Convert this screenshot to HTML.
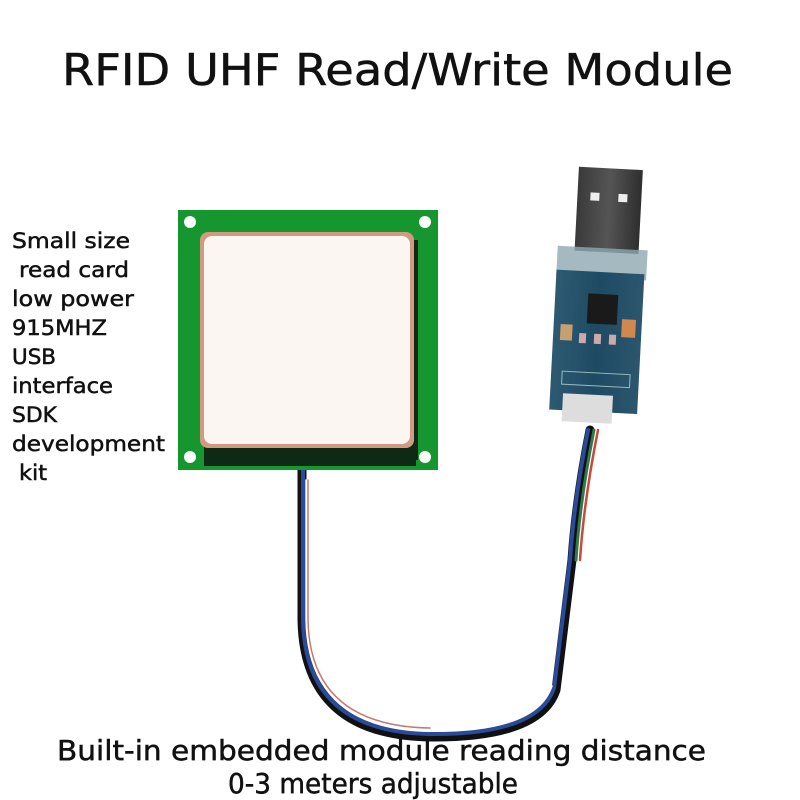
<!DOCTYPE html>
<html><head><meta charset="utf-8"><style>
html,body{margin:0;padding:0;background:#fff;}
svg{display:block;}
text{font-family:"DejaVu Sans","Liberation Sans",sans-serif;fill:#111;stroke:#111;stroke-width:0.5;}
</style></head><body>
<svg width="800" height="800" viewBox="0 0 800 800" xmlns="http://www.w3.org/2000/svg">
<defs>
<linearGradient id="usb" x1="0" x2="1"><stop offset="0" stop-color="#3a3a3a"/><stop offset="0.5" stop-color="#555"/><stop offset="1" stop-color="#2e2e2e"/></linearGradient>
<linearGradient id="board" x1="0" x2="1"><stop offset="0" stop-color="#2d5a72"/><stop offset="0.5" stop-color="#1f4a63"/><stop offset="1" stop-color="#2b566e"/></linearGradient>
</defs>
<rect width="800" height="800" fill="#fff"/>
<text x="62" y="85" font-size="44" stroke-width="1.2" textLength="671" lengthAdjust="spacingAndGlyphs">RFID UHF Read/Write Module</text>

<g font-size="21">
<text x="12" y="248" textLength="118" lengthAdjust="spacingAndGlyphs">Small size</text>
<text x="19" y="277" textLength="110" lengthAdjust="spacingAndGlyphs">read card</text>
<text x="12" y="306" textLength="122" lengthAdjust="spacingAndGlyphs">low power</text>
<text x="12" y="335" textLength="95" lengthAdjust="spacingAndGlyphs">915MHZ</text>
<text x="12" y="364" textLength="44" lengthAdjust="spacingAndGlyphs">USB</text>
<text x="12" y="393" textLength="101" lengthAdjust="spacingAndGlyphs">interface</text>
<text x="12" y="422" textLength="45" lengthAdjust="spacingAndGlyphs">SDK</text>
<text x="12" y="451" textLength="153" lengthAdjust="spacingAndGlyphs">development</text>
<text x="19" y="480" textLength="28" lengthAdjust="spacingAndGlyphs">kit</text>
</g>

<!-- cable -->
<g fill="none" stroke-linecap="round">
<path d="M302 470 L302 620 Q304 735 430 737 Q540 738 556 690 L572 560 Q576 500 590 430" stroke="#111" stroke-width="9"/>
<path d="M303 470 L303 620 Q305 732 430 734 Q538 735 554 688 L570 560 Q574 500 588 430" stroke="#2a4a9a" stroke-width="4"/>
<path d="M306 480 L306 620 Q308 729 430 731 Q535 732 552 686" stroke="#fff" stroke-width="1.5"/>
<path d="M576 560 Q580 500 594 430" stroke="#2f7a4a" stroke-width="3"/>
<path d="M580 560 Q584 500 598 430" stroke="#c84a3a" stroke-width="2.5"/>
<path d="M308 480 L308 620 Q310 726 430 728" stroke="#c87a6a" stroke-width="1.5"/>
</g>

<!-- PCB -->
<rect x="178" y="210" width="260" height="260" fill="#16962e"/>
<rect x="204" y="440" width="212" height="26" fill="#0f2a14"/>
<rect x="408" y="240" width="10" height="220" fill="#0f2a14"/>
<rect x="200" y="232" width="214" height="216" rx="8" fill="#d29a82"/>
<rect x="204" y="236" width="206" height="208" rx="8" fill="#fbf6f2"/>
<circle cx="190" cy="222" r="6" fill="#fff"/>
<circle cx="425" cy="222" r="6" fill="#fff"/>
<circle cx="190" cy="457" r="6" fill="#fff"/>
<circle cx="425" cy="457" r="6" fill="#fff"/>

<!-- USB module -->
<g transform="rotate(3 600 300)">
<rect x="572" y="168" width="64" height="84" fill="url(#usb)"/>
<rect x="585" y="193" width="9" height="8" fill="#eee"/>
<rect x="613" y="193" width="9" height="8" fill="#eee"/>
<rect x="555" y="248" width="90" height="30" fill="#8fa8b0" opacity="0.8"/>
<rect x="555" y="272" width="88" height="140" fill="url(#board)"/>
<rect x="588" y="294" width="30" height="30" fill="#1a1a1a"/>
<rect x="562" y="326" width="12" height="16" fill="#c8a070"/>
<rect x="623" y="318" width="14" height="18" fill="#d08850"/>
<rect x="581" y="334" width="7" height="10" fill="#caa"/>
<rect x="596" y="334" width="7" height="10" fill="#caa"/>
<rect x="611" y="334" width="7" height="10" fill="#caa"/>
<rect x="566" y="373" width="68" height="13" fill="none" stroke="#9bb" stroke-width="1"/>
<rect x="568" y="395" width="50" height="28" fill="#ddd"/>
</g>

<text x="57" y="760" font-size="28" stroke-width="0.7" textLength="649" lengthAdjust="spacingAndGlyphs">Built-in embedded module reading distance</text>
<text x="228" y="793" font-size="28" stroke-width="0.7" textLength="290" lengthAdjust="spacingAndGlyphs">0-3 meters adjustable</text>
</svg>
</body></html>
